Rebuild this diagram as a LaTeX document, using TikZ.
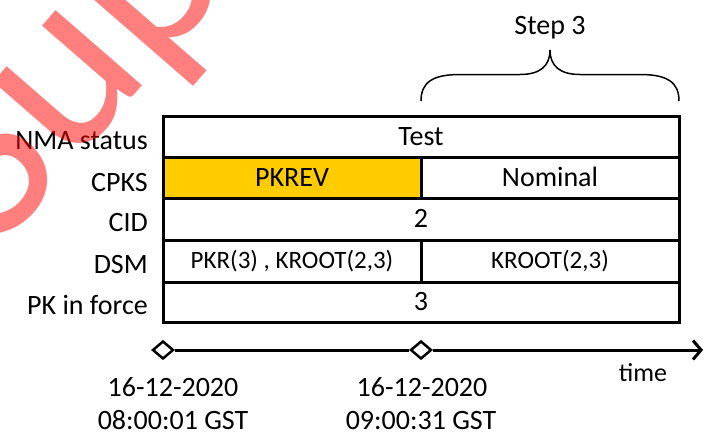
\documentclass[tikz,border=0pt]{standalone}
\usepackage{fontspec}
\setmainfont{Carlito}
\usetikzlibrary{arrows.meta,shapes.geometric}
\newcommand{\fsz}[1]{\fontsize{#1}{#1}\selectfont}
\definecolor{cellgold}{HTML}{FFCC00}
\begin{document}
\begin{tikzpicture}[x=1pt,y=-1pt,
  cell/.style={draw,line width=3pt,inner sep=0pt,font=\fsz{28},text height=17.7pt,text depth=0pt},
  smallcell/.style={cell,font=\fsz{25},text height=15.8pt},
  rowlabel/.style={anchor=base east,inner sep=0pt,font=\fsz{28}},
  datelabel/.style={anchor=base,inner sep=0pt,font=\fsz{28}},
  marker/.style={diamond,draw,fill=white,line width=2.5pt,inner sep=0pt,minimum width=21pt,minimum height=18pt},
  axis/.style={line width=3pt},
  bracestyle/.style={line width=1.5pt}
]
\useasboundingbox (0,0) rectangle (705,432);
% table cells
\node[cell,minimum width=516pt,minimum height=41pt] (nma) at (421,136.5) {Test};
\node[cell,fill=cellgold,minimum width=258pt,minimum height=41pt] (pkrev) at (292,177.5) {PKREV};
\node[cell,minimum width=258pt,minimum height=41pt] (nominal) at (550,177.5) {Nominal};
\node[cell,minimum width=516pt,minimum height=42pt] (cid) at (421,219) {2};
\node[smallcell,minimum width=258pt,minimum height=42pt] (dsma) at (292,261) {PKR(3) , KROOT(2,3)};
\node[smallcell,minimum width=258pt,minimum height=42pt] (dsmb) at (550,261) {KROOT(2,3)};
\node[cell,minimum width=516pt,minimum height=40pt] (pk) at (421,302) {3};
% row labels
\node[rowlabel] (lnma) at (148,149) {NMA status};
\node[rowlabel] (lcpks) at (148,191) {CPKS};
\node[rowlabel] (lcid) at (148,231.5) {CID};
\node[rowlabel] (ldsm) at (148,273) {DSM};
\node[rowlabel] (lpk) at (148,314) {PK in force};
% brace and step label
\draw[bracestyle] (421,101) .. controls (421,82) and (433,74.5) .. (460,74.5) -- (520,74.5)
  .. controls (540,74.5) and (550,66) .. (550,50)
  .. controls (550,66) and (560,74.5) .. (580,74.5) -- (640,74.5)
  .. controls (667,74.5) and (679,82) .. (679,101);
\node[datelabel] (step) at (550,34) {Step 3};
% timeline
\node[marker] (d1) at (163,350) {};
\node[marker] (d2) at (421,350) {};
\coordinate (tend) at (703,350);
\draw[axis] (d1) -- (d2);
\draw[axis,-{Straight Barb[length=8pt,width=19pt]}] (d2) -- (tend);
\node[datelabel,font=\fsz{26}] (tlabel) at (643,381) {time};
\node[datelabel] (date1a) at (173,396) {16-12-2020};
\node[datelabel] (date1b) at (173,429) {08:00:01 GST};
\node[datelabel] (date2a) at (422,396) {16-12-2020};
\node[datelabel] (date2b) at (421,429) {09:00:31 GST};
% watermark
\begin{scope}
\clip (0,0) rectangle (705,432);
\node[text=red,text opacity=0.5,rotate=49,anchor=base west,inner sep=0pt,font=\fsz{240}] (wm) at (-2,252) {Superseded};
\end{scope}
\end{tikzpicture}
\end{document}
